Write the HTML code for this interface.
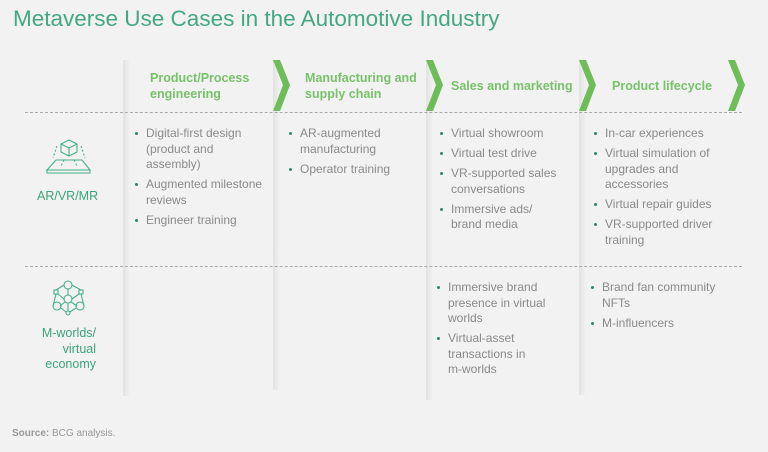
<!DOCTYPE html>
<html><head><meta charset="utf-8"><style>
*{margin:0;padding:0;box-sizing:border-box}
body{width:768px;height:452px;background:#f2f2f2;font-family:"Liberation Sans",sans-serif;position:relative;overflow:hidden}
.a{position:absolute}
.title{left:13px;top:6px;font-size:22.5px;color:#45a883;white-space:nowrap}
.col{position:absolute;top:60px;width:7px;background:linear-gradient(to right,#e2e2e2,#f2f2f2)}
.hd{position:absolute;color:#78c26a;font-weight:bold;font-size:12.5px;line-height:16px}
.dash{position:absolute;left:25px;width:717px;border-top:1px dashed #aaa}
ul{position:absolute;list-style:none;font-size:12px;line-height:15.5px;color:#8a8a8a}
li{position:relative;padding-left:12px;margin-bottom:4.5px}
li:before{content:"";position:absolute;left:1px;top:6px;width:3px;height:3px;border-radius:50%;background:#2f8a5f}
.lab{position:absolute;color:#3aa57a;font-size:12.5px;line-height:15.5px}
.nw{white-space:nowrap}
</style></head><body>
<div class="a title">Metaverse Use Cases in the Automotive Industry</div>

<div class="col" style="left:123px;height:336px"></div>
<div class="col" style="left:273px;height:330px"></div>
<div class="col" style="left:426px;height:340px"></div>
<div class="col" style="left:579px;height:335px"></div>

<svg class="a" style="left:0;top:0" width="768" height="452">
<g fill="#6dbd58">
<polygon points="273,60 280,60 290,85 280,111 273,111 283,85"/>
<polygon points="426,60 433,60 443,85 433,111 426,111 436,85"/>
<polygon points="579,60 586,60 596,85 586,111 579,111 589,85"/>
<polygon points="728,60 735,60 745,85 735,111 728,111 738,85"/>
</g>
<g fill="none" stroke="#47b089" stroke-width="1.1">
<path d="M61,144 L69,140 L77,144 L77,152 L69,156 L61,152 Z M61,144 L69,148 L77,144 M69,148 L69,156"/>
<path d="M56,160 L82,160 L90,170 L47,170 Z M47,170 L47,173 L90,173 L90,170"/>
<path d="M57,146 L53,158 M81,146 L85,158 M64,160 L61,166 M74,160 L77,166" stroke-dasharray="2 2"/>
<circle cx="68" cy="285" r="4"/><circle cx="68" cy="299" r="4"/>
<circle cx="57" cy="306" r="4"/><circle cx="80" cy="306" r="4"/>
<rect x="54" y="290" width="4" height="4"/><rect x="79" y="290" width="4" height="4"/>
<circle cx="68" cy="313" r="2"/>
<path d="M68,289 L68,295 M72,285 L81,290 M64,285 L56,290 M56,294 L53,306 M81,294 L84,306 M64,299 L58,294 M72,299 L79,294 M65,302 L60,306 M71,302 L77,306 M68,303 L68,311 M61,308 L66,312 M76,308 L70,312"/>
</g>
</svg>

<div class="hd" style="left:150px;top:70px">Product/Process<br>engineering</div>
<div class="hd" style="left:305px;top:70px">Manufacturing and<br>supply chain</div>
<div class="hd" style="left:451px;top:78px">Sales and marketing</div>
<div class="hd" style="left:612px;top:78px">Product lifecycle</div>

<div class="dash" style="top:112px"></div>
<div class="dash" style="top:266px"></div>

<div class="lab" style="left:37px;top:189px">AR/VR/MR</div>
<div class="lab" style="left:36px;top:326px;text-align:right;width:60px">M-worlds/<br>virtual<br>economy</div>

<ul style="left:134px;top:126px;width:130px">
<li>Digital-first design (product and assembly)</li>
<li>Augmented milestone reviews</li>
<li>Engineer training</li>
</ul>
<ul style="left:288px;top:126px;width:125px">
<li>AR-augmented manufacturing</li>
<li>Operator training</li>
</ul>
<ul style="left:439px;top:126px;width:130px">
<li>Virtual showroom</li>
<li>Virtual test drive</li>
<li>VR-supported sales conversations</li>
<li>Immersive ads/<br>brand media</li>
</ul>
<ul style="left:593px;top:126px;width:132px">
<li>In-car experiences</li>
<li>Virtual simulation of upgrades and accessories</li>
<li>Virtual repair guides</li>
<li>VR-supported driver<br>training</li>
</ul>
<ul style="left:436px;top:280px;width:130px">
<li>Immersive brand presence in virtual worlds</li>
<li>Virtual-asset transactions in <span class="nw">m-worlds</span></li>
</ul>
<ul style="left:590px;top:280px;width:135px">
<li>Brand fan community NFTs</li>
<li>M-influencers</li>
</ul>

<div class="a" style="left:12px;top:428px;font-size:10px;color:#999"><b>Source:</b> BCG analysis.</div>
</body></html>
